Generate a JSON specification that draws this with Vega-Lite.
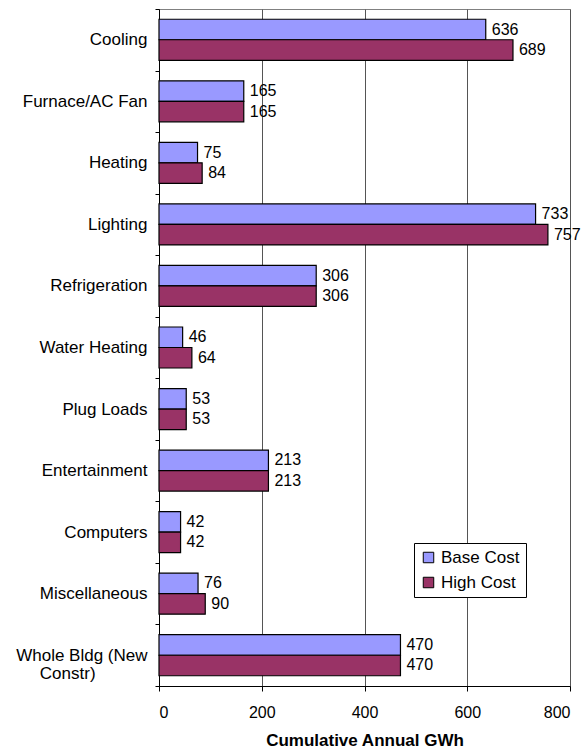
{
  "$schema": "https://vega.github.io/schema/vega-lite/v6.json",
  "width": 411,
  "height": 677,
  "autosize": {"type": "none"},
  "padding": {"left": 159, "top": 9, "right": 17, "bottom": 64},
  "background": "white",
  "config": {
    "font": "Liberation Sans",
    "view": {"stroke": "#808080", "strokeWidth": 1},
    "axis": {
      "labelColor": "black",
      "titleColor": "black",
      "domainColor": "black",
      "tickColor": "black",
      "labelFontSize": 16,
      "titleFontSize": 17
    },
    "legend": {
      "orient": "none",
      "legendX": 255,
      "legendY": 534,
      "strokeColor": "black",
      "fillColor": "white",
      "padding": 6,
      "rowPadding": 7,
      "symbolType": "square",
      "symbolSize": 110,
      "symbolStrokeColor": "black",
      "symbolStrokeWidth": 1,
      "symbolOpacity": 1,
      "labelFontSize": 17,
      "labelColor": "black",
      "labelOffset": 4
    }
  },
  "data": {
    "values": [
      {"use": "Cooling", "scenario": "Base Cost", "gwh": 636},
      {"use": "Cooling", "scenario": "High Cost", "gwh": 689},
      {"use": "Furnace/AC Fan", "scenario": "Base Cost", "gwh": 165},
      {"use": "Furnace/AC Fan", "scenario": "High Cost", "gwh": 165},
      {"use": "Heating", "scenario": "Base Cost", "gwh": 75},
      {"use": "Heating", "scenario": "High Cost", "gwh": 84},
      {"use": "Lighting", "scenario": "Base Cost", "gwh": 733},
      {"use": "Lighting", "scenario": "High Cost", "gwh": 757},
      {"use": "Refrigeration", "scenario": "Base Cost", "gwh": 306},
      {"use": "Refrigeration", "scenario": "High Cost", "gwh": 306},
      {"use": "Water Heating", "scenario": "Base Cost", "gwh": 46},
      {"use": "Water Heating", "scenario": "High Cost", "gwh": 64},
      {"use": "Plug Loads", "scenario": "Base Cost", "gwh": 53},
      {"use": "Plug Loads", "scenario": "High Cost", "gwh": 53},
      {"use": "Entertainment", "scenario": "Base Cost", "gwh": 213},
      {"use": "Entertainment", "scenario": "High Cost", "gwh": 213},
      {"use": "Computers", "scenario": "Base Cost", "gwh": 42},
      {"use": "Computers", "scenario": "High Cost", "gwh": 42},
      {"use": "Miscellaneous", "scenario": "Base Cost", "gwh": 76},
      {"use": "Miscellaneous", "scenario": "High Cost", "gwh": 90},
      {"use": "Whole Bldg (New Constr)", "scenario": "Base Cost", "gwh": 470},
      {"use": "Whole Bldg (New Constr)", "scenario": "High Cost", "gwh": 470}
    ]
  },
  "encoding": {
    "y": {
      "field": "use",
      "type": "nominal",
      "sort": null,
      "scale": {"paddingInner": 0, "paddingOuter": 0},
      "axis": {
        "title": null,
        "tickBand": "extent",
        "tickSize": 4,
        "labelPadding": 8,
        "labelLimit": 200,
        "labelFontSize": 17,
        "labelLineHeight": 18,
        "labelExpr": "datum.value == 'Whole Bldg (New Constr)' ? ['Whole Bldg (New', 'Constr)\u00a0\u00a0\u00a0\u00a0\u00a0\u00a0\u00a0\u00a0\u00a0\u00a0\u00a0\u200b'] : datum.value"
      }
    },
    "yOffset": {
      "field": "scenario",
      "type": "nominal",
      "sort": ["Base Cost", "High Cost"],
      "scale": {"paddingInner": 0, "paddingOuter": 0.5}
    },
    "x": {
      "field": "gwh",
      "type": "quantitative",
      "scale": {"domain": [0, 800], "nice": false},
      "axis": {
        "title": "Cumulative Annual GWh",
        "titleFontWeight": "bold",
        "titlePadding": 12,
        "values": [0, 200, 400, 600, 800],
        "tickSize": 5,
        "labelPadding": 13,
        "grid": true,
        "gridColor": "#555555",
        "gridWidth": 1
      }
    }
  },
  "layer": [
    {
      "mark": {"type": "bar", "stroke": "black", "strokeWidth": 1.2, "opacity": 1},
      "encoding": {
        "fill": {
          "field": "scenario",
          "type": "nominal",
          "scale": {"domain": ["Base Cost", "High Cost"], "range": ["#9999FF", "#993366"]},
          "legend": {"title": null}
        }
      }
    },
    {
      "mark": {"type": "text", "align": "left", "baseline": "middle", "dx": 6, "fontSize": 16, "color": "black"},
      "encoding": {"text": {"field": "gwh", "type": "quantitative"}}
    }
  ]
}
